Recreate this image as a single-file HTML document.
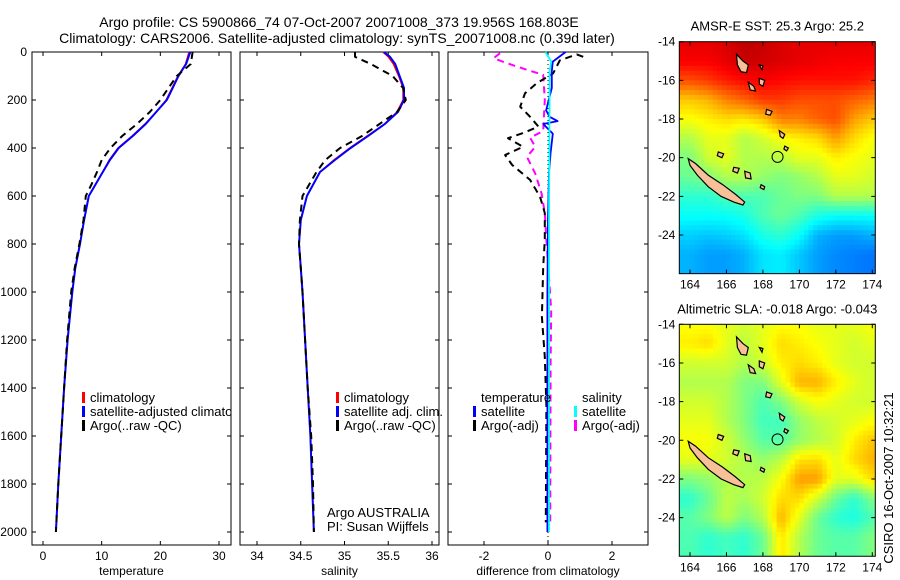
<!DOCTYPE html>
<html><head><meta charset="utf-8"><style>
html,body{margin:0;padding:0;background:#fff;}
svg{display:block;font-family:"Liberation Sans",Arial,sans-serif;}
text{font-size:12px;fill:#000;}
text.leg{font-size:13px;}
text.ttl{font-size:14px;}
</style></head><body>
<svg id="fig" width="900" height="580" viewBox="0 0 900 580" xmlns="http://www.w3.org/2000/svg">
<text class="ttl" x="339" y="27" text-anchor="middle">Argo profile: CS 5900866_74 07-Oct-2007 20071008_373 19.956S 168.803E</text>
<text class="ttl" x="337" y="43" text-anchor="middle">Climatology: CARS2006. Satellite-adjusted climatology: synTS_20071008.nc (0.39d later)</text>
<g id="g"></g>
</svg>
<script>
// ---------------- data ----------------
const depthT = [0,50,100,150,200,250,300,350,400,450,500,550,600,700,800,900,1000,1200,1400,1600,1800,2000];
const climT  = [24.9,24.3,23,22,21,19.3,17.4,15.2,12.8,11.3,10.2,9,7.8,7,6.3,5.5,5,4.2,3.6,3.1,2.6,2.2];
const satT   = [25.1,24.4,23.1,22.1,21.1,19.3,17.5,15.3,12.9,11.4,10.2,9,7.8,7,6.3,5.5,5,4.2,3.6,3.1,2.6,2.2];
const argoT  = [25.5,25.2,22.8,21.4,20.0,18.2,16.0,13.5,11.5,10.0,9.2,8.3,7.3,6.9,6.2,5.4,4.8,4.1,3.6,3.1,2.6,2.2];
const depthS = [0,20,50,100,150,200,250,300,350,400,450,500,600,700,800,900,1000,1200,1400,1600,1800,2000];
const climS  = [35.44,35.5,35.56,35.62,35.67,35.67,35.6,35.46,35.26,35.06,34.88,34.72,34.57,34.5,34.48,34.5,34.52,34.55,34.58,34.61,34.63,34.65];
const satS   = [35.45,35.52,35.58,35.63,35.68,35.68,35.61,35.46,35.27,35.07,34.89,34.72,34.57,34.5,34.48,34.5,34.52,34.55,34.58,34.61,34.63,34.65];
const argoS  = [35.12,35.12,35.3,35.55,35.67,35.7,35.6,35.4,35.2,34.95,34.78,34.68,34.52,34.49,34.48,34.5,34.52,34.55,34.58,34.62,34.64,34.65];
const depthDT = [20,10,35,89,130,172,228,270,311,338,359,395,429,471,533,603,671,783,894,1104,1270,1475,1960];
const argoDT  = [1.1,0.9,0.37,0.16,-0.35,-0.72,-0.87,-0.56,-0.3,-0.78,-1.25,-0.78,-1.34,-1.12,-0.56,-0.25,-0.1,-0.1,-0.15,-0.19,-0.1,-0.05,-0.07];
const depthDS = [5,26,46,74,95,200,329,357,395,437,506,590,671,783,1075,1300,1960];
const argoDS  = [-1.5,-1.7,-1.3,-0.66,-0.15,-0.1,-0.15,-0.56,-0.4,-0.66,-0.4,-0.2,-0.1,-0.05,0.1,0.08,0.07];
const depthST = [0,40,80,150,243,270,288,300,340,420,500,700,1000,1500,2000];
const satDT   = [0.55,0.15,0.12,0.12,-0.06,0.05,0.3,-0.15,0.15,0.08,0.03,0.0,-0.02,-0.02,-0.02];
const depthSS = [0,40,80,200,400,700,1000,1500,2000];
const satDS   = [-0.08,0.1,0.05,0.05,0.04,0.03,0.03,0.03,0.03];
const tempTicks=[0,10,20,30], salTicks=[34,34.5,35,35.5,36], diffTicks=[-2,0,2], depthTicks=[0,200,400,600,800,1000,1200,1400,1600,1800,2000];
const mapLons=[164,165,166,167,168,169,170,171,172,173,174];
const mapLats=[-14,-15,-16,-17,-18,-19,-20,-21,-22,-23,-24,-25];
const lonTicks=[164,166,168,170,172,174], latTicks=[-14,-16,-18,-20,-22,-24];
const sstGrid=[
[0.9,0.9,0.91,0.94,0.93,0.91,0.9,0.9,0.9,0.9,0.9],
[0.88,0.88,0.9,0.93,0.92,0.91,0.9,0.89,0.88,0.88,0.88],
[0.8,0.82,0.85,0.87,0.88,0.87,0.86,0.86,0.86,0.86,0.84],
[0.68,0.7,0.75,0.78,0.82,0.82,0.8,0.8,0.8,0.78,0.76],
[0.62,0.64,0.66,0.65,0.68,0.75,0.75,0.78,0.8,0.72,0.68],
[0.55,0.6,0.6,0.55,0.58,0.62,0.64,0.66,0.72,0.66,0.62],
[0.5,0.58,0.6,0.55,0.55,0.56,0.6,0.6,0.64,0.62,0.6],
[0.48,0.5,0.55,0.55,0.52,0.5,0.52,0.55,0.6,0.6,0.58],
[0.42,0.42,0.45,0.45,0.45,0.48,0.5,0.5,0.55,0.55,0.55],
[0.38,0.38,0.38,0.4,0.45,0.48,0.45,0.4,0.38,0.38,0.38],
[0.33,0.32,0.33,0.35,0.4,0.42,0.38,0.3,0.28,0.28,0.3],
[0.3,0.28,0.28,0.3,0.35,0.36,0.32,0.28,0.26,0.25,0.24]];
const slaGrid=[
[0.62,0.62,0.6,0.58,0.6,0.62,0.62,0.6,0.6,0.6,0.62],
[0.64,0.66,0.6,0.56,0.6,0.66,0.64,0.62,0.6,0.58,0.6],
[0.58,0.58,0.58,0.55,0.58,0.64,0.66,0.64,0.6,0.58,0.58],
[0.55,0.55,0.55,0.5,0.5,0.6,0.7,0.7,0.64,0.6,0.58],
[0.58,0.58,0.55,0.5,0.45,0.5,0.58,0.62,0.6,0.58,0.58],
[0.6,0.6,0.55,0.5,0.44,0.44,0.52,0.56,0.58,0.6,0.62],
[0.62,0.62,0.58,0.52,0.46,0.46,0.52,0.55,0.58,0.64,0.68],
[0.6,0.6,0.58,0.55,0.52,0.56,0.65,0.66,0.6,0.66,0.7],
[0.5,0.52,0.55,0.55,0.56,0.62,0.72,0.72,0.6,0.6,0.66],
[0.42,0.48,0.56,0.54,0.58,0.66,0.66,0.58,0.48,0.42,0.5],
[0.46,0.5,0.56,0.5,0.55,0.7,0.6,0.48,0.42,0.4,0.45],
[0.45,0.42,0.44,0.42,0.48,0.65,0.55,0.48,0.46,0.46,0.5]];
const floatLon=168.803, floatLat=-19.956;

// ---------------- helpers ----------------
const NS="http://www.w3.org/2000/svg";
const G=document.getElementById('g');
function mk(tag,attrs,parent){const e=document.createElementNS(NS,tag);for(const k in attrs)e.setAttribute(k,attrs[k]);(parent||G).appendChild(e);return e;}
const Y0=52, YS=0.24, PB=545, PT=52;
function yD(d){return Y0+d*YS;}
function lin(v0,p0,v1,p1){return v=>p0+(v-v0)*(p1-p0)/(v1-v0);}

function panel(name,x0,x1,xs,ticks,label,showY){
  const r=mk('rect',{x:x0,y:PT,width:x1-x0,height:PB-PT,fill:'#fff',stroke:'#000','stroke-width':1});
  
  
  ticks.forEach(t=>{const x=xs(t);
    const l=mk('path',{d:`M${x},${PB}v-4M${x},${PT}v4`,stroke:'#000'});
    
    
    const tx=mk('text',{x:x,y:PB+15,'text-anchor':'middle'});tx.textContent=t;
    
    
  });
  depthTicks.forEach(d=>{const y=yD(d);
    const l=mk('path',{d:`M${x0},${y}h4M${x1},${y}h-4`,stroke:'#000'});
    
    
    if(showY){const tx=mk('text',{x:x0-5,y:y+4,'text-anchor':'end'});tx.textContent=d;
      
      }
  });
  const xl=mk('text',{x:(x0+x1)/2,y:PB+30,'text-anchor':'middle'});xl.textContent=label;
  
  
}
function line(name,xs,vals,deps,color,w,dash){
  const pts=vals.map((v,i)=>xs(v).toFixed(1)+','+yD(deps[i]).toFixed(1)).join(' ');
  const a={points:pts,fill:'none',stroke:color,'stroke-width':w,'stroke-linejoin':'round'};
  if(dash)a['stroke-dasharray']=dash;
  const p=mk('polyline',a);
  
  
}
function legItem(name,x,y,color,txt){
  const m=mk('rect',{x:x,y:y-10,width:3,height:11,fill:color});
  
  
  const t=mk('text',{x:x+8,y:y,'class':'leg'});t.textContent=txt;
  
  
}

// ---------------- panel 1: temperature ----------------
const xT=lin(0,43,30,219);
panel('temperature-panel',32,231,xT,tempTicks,'temperature',true);
line('temperature-climatology-line',xT,climT,depthT,'#f00',1.6);
line('temperature-satellite-line',xT,satT,depthT,'#00f',2);
line('temperature-argo-line',xT,argoT,depthT,'#000',2,'7,5');
legItem('legend-climatology',82,402,'#f00','climatology');
legItem('legend-satellite-adjusted',82,416,'#00f','satellite-adjusted climatology');
legItem('legend-argo-raw',82,430,'#000','Argo(..raw -QC)');
const mask1=mk('rect',{x:231.5,y:395,width:8,height:30,fill:'#fff'});


mk('line',{x1:231,y1:395,x2:231,y2:425,stroke:'#000'});

// ---------------- panel 2: salinity ----------------
const xS=lin(34,257,36,432);
panel('salinity-panel',240,439,xS,salTicks,'salinity',false);
line('salinity-climatology-line',xS,climS,depthS,'#f00',1.6);
line('salinity-satellite-line',xS,satS,depthS,'#00f',2);
line('salinity-argo-line',xS,argoS,depthS,'#000',2,'7,5');
legItem('legend-sal-climatology',336,402,'#f00','climatology');
legItem('legend-sal-satellite',336,416,'#00f','satellite adj. clim.');
legItem('legend-sal-argo',336,430,'#000','Argo(..raw -QC)');
{const t=mk('text',{x:327,y:517,'class':'leg'});t.textContent='Argo AUSTRALIA';


const t2=mk('text',{x:327,y:531,'class':'leg'});t2.textContent='PI: Susan Wijffels';

}

// ---------------- panel 3: difference ----------------
const xDf=lin(-2,484,2,612);
panel('difference-panel',448,648,xDf,diffTicks,'difference from climatology',false);
{const z=mk('line',{x1:xDf(0),y1:PT,x2:xDf(0),y2:PB,stroke:'#000','stroke-dasharray':'1,3'});

}
line('diff-salinity-argo-line',xDf,argoDS,depthDS,'#f0f',2,'7,5');
line('diff-temperature-argo-line',xDf,argoDT,depthDT,'#000',2,'7,5');
line('diff-temperature-satellite-line',xDf,satDT,depthST,'#00f',1.8);
line('diff-salinity-satellite-line',xDf,satDS,depthSS,'#0ff',1.8);
{const t=mk('text',{x:481,y:402,'class':'leg'});t.textContent='temperature';


const t2=mk('text',{x:582,y:402,'class':'leg'});t2.textContent='salinity';

}
legItem('legend-temp-satellite',473,416,'#00f','satellite');
legItem('legend-temp-argo',473,430,'#000','Argo(-adj)');
legItem('legend-sal-sat',574,416,'#0ff','satellite');
legItem('legend-sal-argo-adj',574,430,'#f0f','Argo(-adj)');

// ---------------- maps ----------------
function jet(v){v=Math.max(0,Math.min(1,v));
  const r=Math.max(0,Math.min(1,1.5-Math.abs(4*v-3))),g=Math.max(0,Math.min(1,1.5-Math.abs(4*v-2))),b=Math.max(0,Math.min(1,1.5-Math.abs(4*v-1)));
  return `rgb(${Math.round(r*255)},${Math.round(g*255)},${Math.round(b*255)})`;}
function sample(grid,lon,lat){
  let fi=Math.max(0,Math.min(mapLons.length-1.001,lon-mapLons[0]));
  let fj=Math.max(0,Math.min(mapLats.length-1.001,mapLats[0]-lat));
  const i=Math.floor(fi),j=Math.floor(fj),a=fi-i,b=fj-j;
  return grid[j][i]*(1-a)*(1-b)+grid[j][i+1]*a*(1-b)+grid[j+1][i]*(1-a)*b+grid[j+1][i+1]*a*b;}
const islands=[
 [[163.9,-20.05],[164.3,-20.3],[165.0,-20.9],[165.8,-21.4],[166.5,-21.9],[167.0,-22.3],[166.9,-22.45],[166.4,-22.3],[165.7,-22.0],[165.0,-21.5],[164.4,-20.9],[164.0,-20.4]],
 [[166.55,-14.65],[166.9,-15.0],[167.2,-15.2],[167.1,-15.6],[166.8,-15.55],[166.6,-15.2]],
 [[167.2,-16.1],[167.5,-16.3],[167.6,-16.55],[167.3,-16.5]],
 [[168.2,-17.5],[168.5,-17.6],[168.4,-17.8],[168.15,-17.75]],
 [[168.9,-18.6],[169.2,-18.8],[169.1,-19.0],[168.95,-18.9]],
 [[169.2,-19.4],[169.4,-19.5],[169.3,-19.65],[169.15,-19.55]],
 [[167.0,-20.7],[167.3,-20.8],[167.35,-21.1],[167.05,-21.05]],
 [[167.9,-21.4],[168.1,-21.5],[168.05,-21.65],[167.85,-21.55]],
 [[166.4,-20.5],[166.7,-20.55],[166.6,-20.8],[166.35,-20.7]],
 [[165.55,-19.7],[165.85,-19.8],[165.75,-20.0],[165.5,-19.9]],
 [[167.8,-15.9],[168.1,-16.0],[168.0,-16.3],[167.8,-16.2]],
 [[167.8,-15.2],[168.0,-15.25],[167.95,-15.45]]];
function drawMap(name,grid,top,title){
  const L=679.3,R=875.3,lonX=lin(164,690,174,872.3),latY=lin(-14,top,-24,top+193.3),B=latY(-26);
  const clipId='clip-'+name;
  const cp=mk('clipPath',{id:clipId});mk('rect',{x:L,y:top,width:R-L,height:B-top},cp);
  const gg=mk('g',{'clip-path':`url(#${clipId})`});
  
  
  const st=0.25;
  for(let lon=163.25;lon<174.3;lon+=st){for(let lat=-14;lat>-26.1;lat-=st){
    const v=sample(grid,lon+st/2,lat-st/2);
    const c=mk('rect',{x:lonX(lon).toFixed(1),y:latY(lat).toFixed(1),width:(st*18.23+0.6).toFixed(1),height:(st*19.33+0.6).toFixed(1),fill:jet(v)},gg);
    
    
  }}
  islands.forEach(poly=>{const p=mk('polygon',{points:poly.map(q=>lonX(q[0]).toFixed(1)+','+latY(q[1]).toFixed(1)).join(' '),fill:'#f8c098',stroke:'#000','stroke-width':1.2},gg);
    
    });
  const fc=mk('circle',{cx:lonX(floatLon),cy:latY(floatLat),r:5.5,fill:'none',stroke:'#000','stroke-width':1});
  
  
  const fr=mk('rect',{x:L,y:top,width:R-L,height:B-top,fill:'none',stroke:'#000'});
  
  
  lonTicks.forEach(t=>{const x=lonX(t);mk('path',{d:`M${x},${B}v-4M${x},${top}v4`,stroke:'#000'});
    const tx=mk('text',{x:x,y:B+15,'text-anchor':'middle'});tx.textContent=t;
    
    });
  latTicks.forEach(t=>{const y=latY(t);mk('path',{d:`M${L},${y}h4M${R},${y}h-4`,stroke:'#000'});
    const tx=mk('text',{x:L-4,y:y+4,'text-anchor':'end'});tx.textContent=t;
    
    });
  const tt=mk('text',{x:(L+R)/2,y:top-11,'text-anchor':'middle','class':'leg'});tt.textContent=title;
  
  
}
drawMap('sst-map',sstGrid,41.7,'AMSR-E SST: 25.3 Argo: 25.2');
drawMap('sla-map',slaGrid,324.3,'Altimetric SLA: -0.018 Argo: -0.043');
{const t=mk('text',{x:0,y:0,transform:'translate(893,478) rotate(-90)','text-anchor':'middle','class':'leg'});t.textContent='CSIRO 16-Oct-2007 10:32:21';

}
</script>
</body></html>
